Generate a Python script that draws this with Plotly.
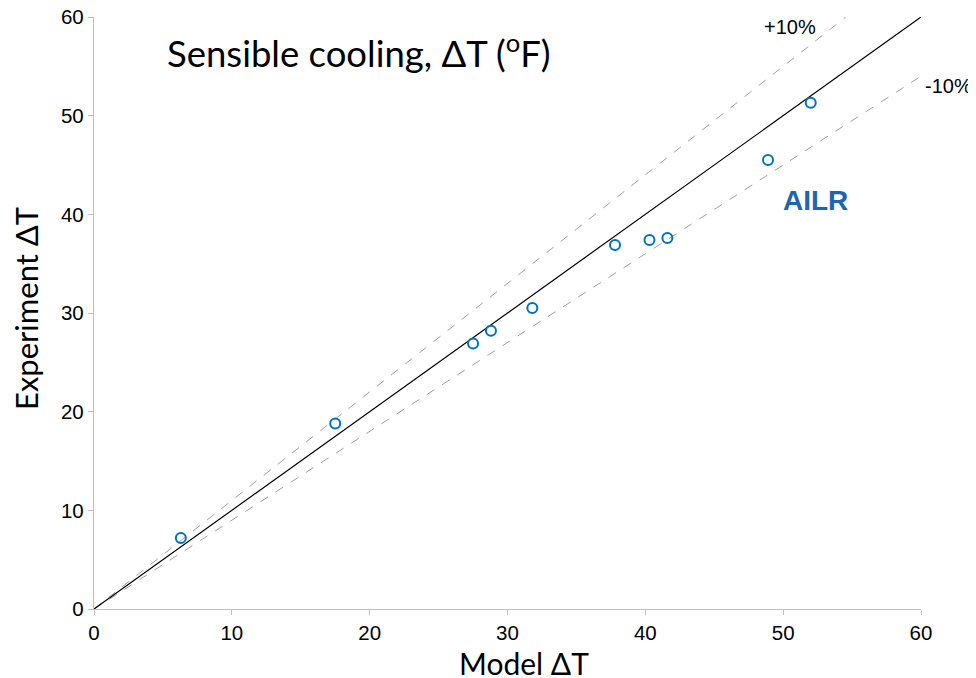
import plotly.graph_objects as go

model_dT = [6.3, 17.5, 27.5, 28.8, 31.8, 37.8, 40.3, 41.6, 48.9, 52.0]
exp_dT = [7.2, 18.8, 26.9, 28.2, 30.5, 36.9, 37.4, 37.6, 45.5, 51.3]

line_x = [0, 60]
line_y = [0, 60]
plus_x = [0, 60 / 1.1]
plus_y = [0, 60]
minus_x = [0, 60]
minus_y = [0, 54]

tick_vals = [0, 10, 20, 30, 40, 50, 60]

fig = go.Figure()
fig.add_trace(go.Scatter(x=plus_x, y=plus_y, mode="lines",
                         line=dict(color="#A0A0A0", width=1, dash="dash"), hoverinfo="skip"))
fig.add_trace(go.Scatter(x=minus_x, y=minus_y, mode="lines",
                         line=dict(color="#A0A0A0", width=1, dash="dash"), hoverinfo="skip"))
fig.add_trace(go.Scatter(x=line_x, y=line_y, mode="lines",
                         line=dict(color="black", width=1.2), hoverinfo="skip"))
fig.add_trace(go.Scatter(x=model_dT, y=exp_dT, mode="markers",
                         marker=dict(symbol="circle-open", size=10, color="#0070C0",
                                     line=dict(width=2, color="#0070C0"))))

axis_common = dict(range=[0, 60], tickvals=tick_vals, showgrid=False, zeroline=False,
                   showline=True, linecolor="#BFBFBF", linewidth=1.3,
                   ticks="outside", ticklen=5, tickcolor="#BFBFBF",
                   ticklabeloverflow="allow", automargin=False,
                   tickfont=dict(family="Liberation Sans, Arial", size=20.5, color="black"))

# body margin of 8px in the page: figure spans 8..976, 8..678
W, H, OFF = 968, 670, 8
pl, pr, pt, pb = 94, 921, 17, 609  # plot area in window pixels

fig.update_layout(
    width=W, height=H,
    margin=dict(l=pl - OFF, r=OFF + W - pr, t=pt - OFF, b=OFF + H - pb, autoexpand=False),
    paper_bgcolor="white", plot_bgcolor="white",
    showlegend=False,
    xaxis=dict(**axis_common),
    yaxis=dict(**axis_common),
)

annos = [
    ("Sensible cooling, ΔT (<sup>o</sup>F)", 165, 51, "left", dict(family="Lato, Open Sans", size=36.5, color="black"), 0),
    ("Model ΔT", 524, 663, "center", dict(family="Lato, Open Sans", size=30, color="black"), 0),
    ("Experiment ΔT", 26, 309, "center", dict(family="Lato, Open Sans", size=31, color="black"), -90),
    ("<b>AILR</b>", 815, 200, "center", dict(family="Liberation Sans, Arial", size=28, color="#1F64AF"), 0),
    ("+10%", 790, 27, "center", dict(family="Liberation Sans, Arial", size=20, color="black"), 0),
    ("-10%", 949, 86, "center", dict(family="Liberation Sans, Arial", size=20, color="black"), 0),
]
for text, px, py, xa, font, ang in annos:
    fig.add_annotation(text=text, x=(px - pl) / (pr - pl), y=(pb - py) / (pb - pt),
                       xref="paper", yref="paper", xanchor=xa, yanchor="middle",
                       showarrow=False, font=font, textangle=ang)

fig.write_html("out.html")
